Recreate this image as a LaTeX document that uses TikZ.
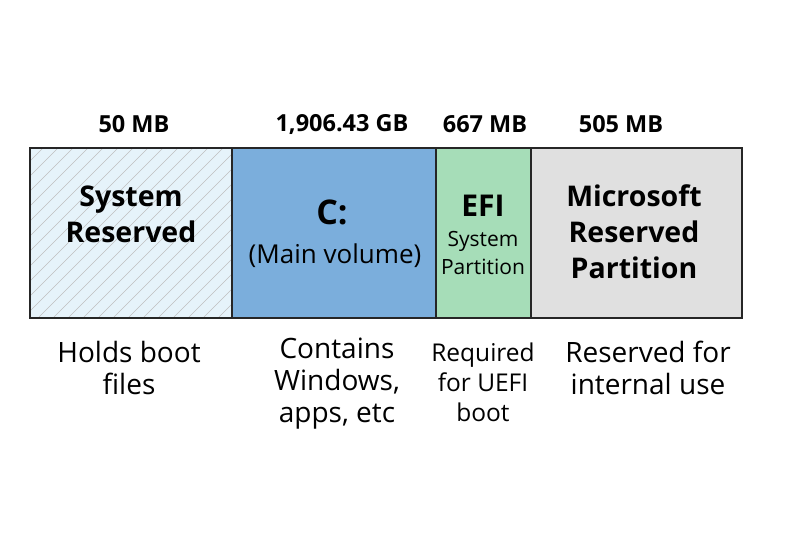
\documentclass[tikz,border=0pt]{standalone}
\usepackage{fontspec}
\setmainfont{Open Sans}
\begin{document}
\begin{tikzpicture}[x=1pt,y=-1pt,
  part/.style={draw=black!85,line width=1.6pt},
  size/.style={font=\fontsize{23.5}{24}\selectfont\bfseries},
  title/.style={font=\fontsize{28.5}{36}\selectfont\bfseries,align=center},
  desc/.style={font=\fontsize{28}{32}\selectfont,align=center}]
\useasboundingbox[fill=white] (0,0) rectangle (800,533);
\definecolor{srfill}{HTML}{E6F3FA}
\definecolor{cfill}{HTML}{7BAEDC}
\definecolor{efifill}{HTML}{A6DDB8}
\definecolor{msrfill}{HTML}{E0E0E0}
% partitions
\fill[srfill] (29,147) rectangle (231,317);
\begin{scope}
\clip (29,147) rectangle (231,317);
\foreach \i in {-200,-185,...,220}
  \draw[black!25,line width=0.6pt] (29+\i,317) -- (29+\i+170,147);
\end{scope}
\node[part,fill=none,minimum width=202pt,minimum height=170pt,anchor=north west,inner sep=0pt] (sr) at (29,147) {};
\node[part,fill=cfill,minimum width=204pt,minimum height=170pt,anchor=north west,inner sep=0pt] (c) at (231,147) {};
\node[part,fill=efifill,minimum width=95pt,minimum height=170pt,anchor=north west,inner sep=0pt] (efi) at (435,147) {};
\node[part,fill=msrfill,minimum width=211pt,minimum height=170pt,anchor=north west,inner sep=0pt] (msr) at (530,147) {};
% sizes
\node[size] (s1) at (134,124) {50 MB};
\node[size] (s2) at (342,124) {1,906.43 GB};
\node[size] (s3) at (485,124) {667 MB};
\node[size] (s4) at (621,124) {505 MB};
% titles
\node[title] (t1) at (131,214) {System\\Reserved};
\node[font=\fontsize{34}{36}\selectfont\bfseries] (t2) at (332,212) {C:};
\node[font=\fontsize{26}{28}\selectfont] (t2b) at (335,256) {(Main volume)};
\node[font=\fontsize{30}{32}\selectfont\bfseries] (t3) at (483,206) {EFI};
\node[font=\fontsize{21}{28}\selectfont,align=center] (t3b) at (483,253) {System\\Partition};
\node[title] (t4) at (634,232) {Microsoft\\Reserved\\Partition};
% descriptions
\node[desc] (d1) at (129,368) {Holds boot\\files};
\node[desc] (d2) at (337,384) {Contains\\Windows,\\apps, etc};
\node[font=\fontsize{24.5}{30}\selectfont,align=center] (d3) at (483,382) {Required\\for UEFI\\boot};
\node[desc] (d4) at (648,368) {Reserved for\\internal use};
\end{tikzpicture}
\end{document}
